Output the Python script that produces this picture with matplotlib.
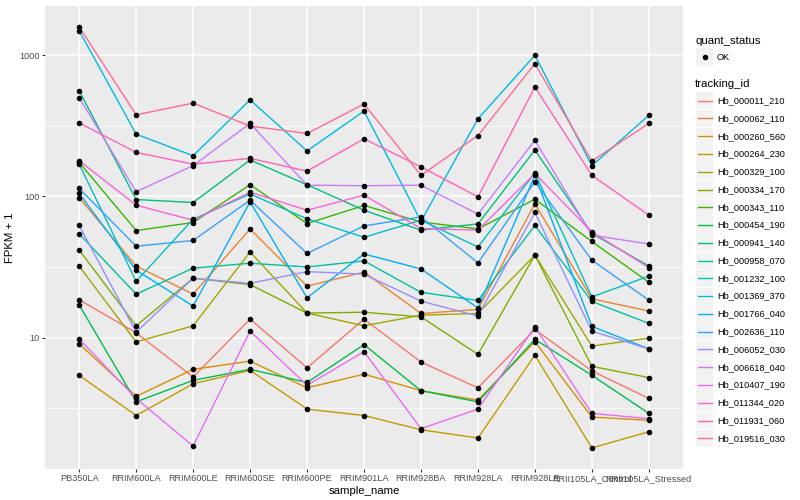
import numpy as np
import matplotlib
matplotlib.use('Agg')
import matplotlib.pyplot as plt
from matplotlib.lines import Line2D
from matplotlib.patches import Rectangle

plt.rcParams['font.family'] = ['Liberation Sans', 'DejaVu Sans']

samples = ['PB350LA', 'RRIM600LA', 'RRIM600LE', 'RRIM600SE', 'RRIM600PE', 'RRIM901LA',
           'RRIM928BA', 'RRIM928LA', 'RRIM928LE', 'RRII105LA_Control', 'RRII105LA_Stressed']

tracking_ids = ['Hb_000011_210', 'Hb_000062_110', 'Hb_000260_560', 'Hb_000264_230',
                'Hb_000329_100', 'Hb_000334_170', 'Hb_000343_110', 'Hb_000454_190',
                'Hb_000941_140', 'Hb_000958_070', 'Hb_001232_100', 'Hb_001369_370',
                'Hb_001766_040', 'Hb_002636_110', 'Hb_006052_030', 'Hb_006618_040',
                'Hb_010407_190', 'Hb_011344_020', 'Hb_011931_060', 'Hb_019516_030']

# FPKM + 1 per sample
hb_000011_210 = [18.5, 10.8, 5.25, 13.5, 6.1, 13.5, 6.7, 4.4, 11.4, 5.8, 3.7]
hb_000062_110 = [98, 32.1, 20.3, 58.8, 23.1, 29.1, 14.8, 15.8, 88.5, 18.8, 15.4]
hb_000260_560 = [9.0, 3.83, 5.95, 6.8, 4.4, 5.5, 4.2, 3.6, 9.35, 2.73, 2.59]
hb_000264_230 = [5.4, 2.8, 4.7, 5.85, 3.11, 2.8, 2.22, 1.94, 7.5, 1.65, 2.15]
hb_000329_100 = [32, 9.3, 12.1, 40.4, 14.9, 12.1, 14.4, 14.8, 38.3, 8.7, 9.9]
hb_000334_170 = [41.7, 12.1, 26.3, 23.7, 14.9, 15.1, 14.0, 7.6, 38.3, 6.25, 5.2]
hb_000343_110 = [174, 57.3, 65.3, 121, 64.2, 86.2, 65.9, 58.8, 95.5, 47.9, 24.6]
hb_000454_190 = [17, 3.5, 4.97, 5.95, 4.8, 8.9, 4.2, 3.5, 9.7, 5.4, 2.9]
hb_000941_140 = [560, 95, 90.5, 181, 121, 79.8, 57.6, 63.8, 213, 54.6, 32.1]
hb_000958_070 = [54.2, 20.3, 31, 33.6, 31.6, 34.9, 20.9, 18.3, 62.2, 18, 12.6]
hb_001232_100 = [169, 25, 68.9, 104, 69.3, 51.3, 67.8, 43.8, 147, 19.4, 27.2]
hb_001369_370 = [1492, 276, 194, 483, 210, 402, 66.7, 354, 1000, 165, 375]
hb_001766_040 = [105, 30, 16.7, 91.4, 19.1, 39.1, 30.6, 16.2, 141, 12, 8.3]
hb_002636_110 = [114, 44.3, 48.7, 94, 39.4, 61.8, 71.5, 33.8, 127, 35.3, 18.4]
hb_006052_030 = [62.2, 10.9, 26.3, 24.2, 29.3, 28.1, 18.1, 14.2, 76.9, 11.1, 8.3]
hb_006618_040 = [500, 108, 165, 329, 120, 119, 120, 74.8, 250, 53.1, 46]
hb_010407_190 = [9.76, 3.7, 1.7, 11.1, 4.58, 7.94, 2.26, 3.11, 11.9, 2.9, 2.66]
hb_011344_020 = [179, 86.6, 67.8, 107, 79.8, 102, 59.2, 57.6, 145, 56, 31.3]
hb_011931_060 = [332, 205, 169, 186, 151, 256, 162, 99.2, 595, 141, 73.6]
hb_019516_030 = [1592, 378, 458, 315, 279, 451, 141, 270, 870, 178, 329]

series = [hb_000011_210, hb_000062_110, hb_000260_560, hb_000264_230, hb_000329_100,
          hb_000334_170, hb_000343_110, hb_000454_190, hb_000941_140, hb_000958_070,
          hb_001232_100, hb_001369_370, hb_001766_040, hb_002636_110, hb_006052_030,
          hb_006618_040, hb_010407_190, hb_011344_020, hb_011931_060, hb_019516_030]

# ggplot hue palette for 20 levels
colors = ['#F8766D', '#EA8331', '#D89000', '#C09B00', '#A3A500', '#7CAE00', '#39B600',
          '#00BB4E', '#00BF7D', '#00C1A3', '#00BFC4', '#00BAE0', '#00B0F6', '#35A2FF',
          '#9590FF', '#C77CFF', '#E76BF3', '#FA62DB', '#FF62BC', '#FF6C91']

W, H = 800, 500
fig = plt.figure(figsize=(8, 5), dpi=100)
ax = fig.add_axes([45 / W, 1 - 469 / H, (683 - 45) / W, (469 - 5.7) / H])
ax.set_facecolor('#EBEBEB')

x = np.arange(len(samples))
for vals, col in zip(series, colors):
    ax.plot(x, vals, color=col, lw=1.0, zorder=3, solid_capstyle='butt')
for vals in series:
    ax.plot(x, vals, 'o', color='black', ms=3.0, zorder=4)

ax.set_yscale('log')
ax.set_yticks([10, 100, 1000])
ax.set_yticklabels(['10', '100', '1000'])
ax.set_yticks([10 ** 0.5, 10 ** 1.5, 10 ** 2.5], minor=True)
ax.yaxis.set_minor_formatter(matplotlib.ticker.NullFormatter())
ax.set_xticks(x)
ax.set_xticklabels(samples)

# limits after ticks, 5% expansion in log space like ggplot
allv = np.log10(np.concatenate([np.asarray(v, float) for v in series]))
lo, hi = allv.min(), allv.max()
pad = 0.05 * (hi - lo)
ax.set_ylim(10 ** (lo - pad), 10 ** (hi + pad))
ax.set_xlim(-0.6, len(samples) - 1 + 0.6)

ax.grid(True, which='major', color='white', lw=1.1, zorder=0)
ax.grid(True, which='minor', axis='y', color='white', lw=0.55, zorder=0)
ax.set_axisbelow(True)
for s in ax.spines.values():
    s.set_visible(False)
ax.tick_params(which='major', length=2.0, width=0.8, color='#333333', labelcolor='#4D4D4D',
               labelsize=6.6, pad=1.6)
ax.tick_params(which='minor', length=0)

ax.set_xlabel('sample_name', fontsize=8.2, labelpad=2)
ax.set_ylabel('FPKM + 1', fontsize=8.2, labelpad=3)


def fx(px):
    return px / W


def fy(py):
    return 1 - py / H


# legend: quant_status
fig.text(fx(695), fy(40.7), 'quant_status', fontsize=8.2, va='center', ha='left')
fig.add_artist(Rectangle((fx(696), fy(57 + 8.6)), 17 / W, 17.2 / H, transform=fig.transFigure,
                         facecolor='#F2F2F2', edgecolor='none'))
fig.add_artist(Line2D([fx(704.5)], [fy(57)], marker='o', ms=3.0, color='black',
                      transform=fig.transFigure))
fig.text(fx(717), fy(57), 'OK', fontsize=6.6, va='center', ha='left')

# legend: tracking_id
fig.text(fx(695), fy(84.3), 'tracking_id', fontsize=8.2, va='center', ha='left')
for i, (name, col) in enumerate(zip(tracking_ids, colors)):
    cy = 100.7 + i * 17.77
    fig.add_artist(Rectangle((fx(696), fy(cy + 8.6)), 17 / W, 17.2 / H,
                             transform=fig.transFigure, facecolor='#F2F2F2', edgecolor='none'))
    fig.add_artist(Line2D([fx(697.5), fx(711.5)], [fy(cy), fy(cy)], color=col, lw=1.0,
                          transform=fig.transFigure))
    fig.text(fx(717), fy(cy), name, fontsize=6.6, va='center', ha='left')

fig.savefig('out.png', dpi=100)
